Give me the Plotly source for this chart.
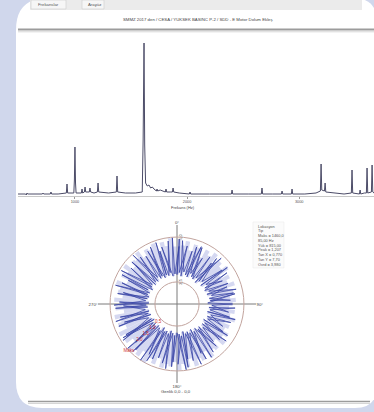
import plotly.graph_objects as go

W, H = 374, 412

# ---------------- data ----------------
freq_hz = [492, 560, 566, 572, 578, 640, 709, 715, 721, 780, 786, 792, 850, 923, 929, 935,
           990, 995, 1000, 1005, 1010, 1057, 1063, 1069, 1084, 1090, 1096, 1128, 1134, 1140,
           1170, 1200, 1206, 1212, 1300, 1369, 1375, 1381, 1450, 1540, 1600, 1608, 1616,
           1622, 1630, 1645, 1660, 1675, 1690, 1705, 1726, 1732, 1738, 1760, 1790, 1806,
           1812, 1818, 1850, 1869, 1875, 1881, 1930, 2020, 2026, 2032, 2200, 2395, 2401,
           2407, 2550, 2662, 2668, 2674, 2760, 2841, 2847, 2853, 2930, 2936, 2942, 3050,
           3150, 3189, 3195, 3201, 3225, 3231, 3237, 3300, 3400, 3465, 3471, 3477, 3537,
           3543, 3549, 3580, 3599, 3605, 3611, 3644, 3650, 3656, 3667]
amp = [0.01, 0.01, 0.00, 0.02, 0.01, 0.01, 0.01, 0.02, 0.01, 0.01, 0.03, 0.01, 0.01, 0.02, 0.11, 0.02,
       0.02, 0.15, 0.48, 0.12, 0.02, 0.02, 0.06, 0.02, 0.03, 0.08, 0.03, 0.03, 0.07, 0.03,
       0.02, 0.03, 0.12, 0.03, 0.02, 0.03, 0.19, 0.03, 0.02, 0.02, 0.03, 0.55, 1.52,
       0.50, 0.12, 0.09, 0.10, 0.07, 0.08, 0.06, 0.04, 0.06, 0.04, 0.05, 0.04, 0.03,
       0.06, 0.03, 0.03, 0.03, 0.07, 0.03, 0.02, 0.01, 0.03, 0.01, 0.01, 0.01, 0.05,
       0.01, 0.01, 0.01, 0.07, 0.01, 0.01, 0.01, 0.04, 0.01, 0.01, 0.06, 0.01, 0.01,
       0.02, 0.04, 0.31, 0.05, 0.04, 0.12, 0.03, 0.02, 0.01, 0.02, 0.25, 0.02, 0.01,
       0.05, 0.01, 0.02, 0.02, 0.27, 0.02, 0.03, 0.30, 0.03, 0.02]
freq_ticks = [1000, 2000, 3000]

spike_theta = [0, 4, 8, 12, 16, 20, 24, 28, 32, 36, 40,
               44, 48, 52, 56, 60, 64, 68, 72, 76, 80, 84, 88,
               92, 96, 100, 104, 108, 112, 116, 120, 124, 128, 132, 136,
               140, 144, 148, 152, 156, 160, 164, 168, 172, 176, 180, 184,
               188, 192, 196, 200, 204, 208, 212, 216, 220, 224, 228, 232,
               236, 240, 244, 248, 252, 256, 260, 264, 268, 272, 276, 280,
               284, 288, 292, 296, 300, 304, 308, 312, 316, 320, 324, 328,
               332, 336, 340, 344, 348, 352, 356]
# angular offset (deg) of each spike's outer tip
tip_offset = [2, 6, -3, 4, 7, -1, 5, -4, 3, 8, 0,
              -3, 5, 2, 7, -2, 4, 8, -1, 3, 6, -4, 2,
              7, -2, 4, 1, 8, -3, 5, 2, 6, -1, 4, 7,
              -3, 3, 6, 0, 8, -2, 5, 2, 7, -4, 4, 1,
              6, -2, 3, 8, 0, 5, -3, 7, 2, 4, -1, 6,
              3, -4, 7, 1, 5, -2, 8, 2, 4, -3, 6, 0,
              7, -1, 4, 2, 8, -3, 5, 1, 6, -2, 3, 7,
              -1, 5, 2, 8, -3, 4, 6]
r_outer = [0.97, 0.88, 0.95, 0.82, 0.93, 0.90, 0.78, 0.92, 0.86, 0.95, 0.80,
           0.90, 0.84, 0.93, 0.76, 0.88, 0.82, 0.91, 0.79, 0.86, 0.80, 0.88, 0.83,
           0.78, 0.87, 0.81, 0.90, 0.76, 0.85, 0.80, 0.89, 0.83, 0.92, 0.78, 0.90,
           0.86, 0.95, 0.82, 0.93, 0.88, 0.97, 0.84, 0.96, 0.90, 0.99, 0.87, 0.94,
           0.91, 0.98, 0.85, 0.96, 0.90, 1.00, 0.86, 0.97, 0.92, 0.99, 0.84, 0.95,
           0.89, 0.97, 0.83, 0.93, 0.87, 0.95, 0.80, 0.92, 0.86, 0.94, 0.82, 0.90,
           0.88, 0.96, 0.81, 0.93, 0.87, 0.97, 0.84, 0.92, 0.89, 0.98, 0.85, 0.94,
           0.90, 0.97, 0.83, 0.95, 0.88, 0.99, 0.86]
r_inner = [0.44, 0.47, 0.42, 0.49, 0.45, 0.43, 0.50, 0.46, 0.44, 0.48, 0.42,
           0.47, 0.50, 0.45, 0.52, 0.48, 0.46, 0.51, 0.47, 0.53, 0.49, 0.50, 0.46,
           0.52, 0.48, 0.50, 0.47, 0.53, 0.49, 0.51, 0.46, 0.50, 0.48, 0.52, 0.47,
           0.49, 0.45, 0.48, 0.43, 0.47, 0.44, 0.46, 0.42, 0.48, 0.45, 0.43, 0.47,
           0.44, 0.41, 0.46, 0.43, 0.45, 0.40, 0.47, 0.44, 0.42, 0.46, 0.43, 0.45,
           0.41, 0.44, 0.47, 0.42, 0.45, 0.43, 0.48, 0.44, 0.46, 0.42, 0.47, 0.45,
           0.43, 0.46, 0.44, 0.48, 0.42, 0.45, 0.47, 0.43, 0.46, 0.44, 0.49, 0.45,
           0.47, 0.43, 0.46, 0.44, 0.48, 0.42, 0.45]

red_label_r = [0.39, 0.51, 0.65, 0.78, 1.0]
red_label_theta = [226, 226, 226, 226, 226]
red_label_text = ["0,5", "1,0", "1,5", "2,0", "Maks"]

angle_ticks = [0, 90, 180, 270]
angle_labels = ["0°", "90°", "180°", "270°"]

info_lines = ["Lokasyon", "Tip", "Maks = 1460,0", "85,00 Hz", "Yük = 815,00",
              "Peak = 1,207", "Tan X = 0,770", "Tan Y = 7,70", "Ovrd = 3,980"]

title_text = "SMMZ 2017 den / CESA / YUKSEK BASINC P-2 / SDD - E Motor Dolum Ekleş"
tab_labels = ["Frekanslar", "Arayüz"]

# ---------------- helpers (pixel -> paper) ----------------
def X(px):
    return px / W

def Y(py):
    return 1 - py / H

FONT = "Liberation Sans"

fig = go.Figure()

# spectrum
fig.add_trace(go.Scatter(x=freq_hz, y=amp, mode="lines",
                         line=dict(color="#4c4c68", width=1), hoverinfo="skip",
                         showlegend=False, xaxis="x", yaxis="y"))

# polar ring fill
fig.add_trace(go.Barpolar(theta=[t + 2 for t in spike_theta],
                          r=[o - i for o, i in zip(r_outer, r_inner)],
                          base=r_inner, width=[4] * len(spike_theta),
                          marker=dict(color="rgba(150,158,220,0.40)", line=dict(width=0)),
                          showlegend=False, hoverinfo="skip", subplot="polar"))

# zigzag spikes
zz_theta, zz_r = [], []
for t, d, ri, ro in zip(spike_theta, tip_offset, r_inner, r_outer):
    zz_theta += [t, t + d]
    zz_r += [ri, ro]
zz_theta.append(360)
zz_r.append(r_inner[0])
fig.add_trace(go.Scatterpolar(theta=zz_theta, r=zz_r, mode="lines",
                              line=dict(color="#3440a4", width=0.75),
                              showlegend=False, hoverinfo="skip", subplot="polar"))

# red labels
fig.add_trace(go.Scatterpolar(theta=red_label_theta, r=red_label_r, mode="text",
                              text=red_label_text,
                              textfont=dict(color="#d03030", size=4.5, family=FONT),
                              showlegend=False, hoverinfo="skip", subplot="polar"))

shapes = []
# white panel with rounded corners
L, R, T, B = 16, 377, -2, 408
shapes.append(dict(
    type="path", xref="paper", yref="paper", layer="below",
    path=(f"M {X(L+32)} {Y(T)} L {X(R-24)} {Y(T)} Q {X(R)} {Y(T)} {X(R)} {Y(T+24)} "
          f"L {X(R)} {Y(B-22)} Q {X(R)} {Y(B)} {X(R-22)} {Y(B)} "
          f"L {X(L+26)} {Y(B)} Q {X(L)} {Y(B)} {X(L)} {Y(B-26)} "
          f"L {X(L)} {Y(T+32)} Q {X(L)} {Y(T)} {X(L+32)} {Y(T)} Z"),
    fillcolor="white", line=dict(width=0)))
# tab bar
shapes.append(dict(type="rect", xref="paper", yref="paper", layer="below",
                   x0=X(30), x1=X(362), y0=Y(0), y1=Y(10),
                   fillcolor="#ebebeb", line=dict(width=0)))
shapes.append(dict(type="rect", xref="paper", yref="paper", layer="below",
                   x0=X(31), x1=X(66), y0=Y(0), y1=Y(9),
                   fillcolor="#f6f6f6", line=dict(color="#cfcfcf", width=0.6)))
shapes.append(dict(type="rect", xref="paper", yref="paper", layer="below",
                   x0=X(82), x1=X(104), y0=Y(0), y1=Y(9),
                   fillcolor="#f6f6f6", line=dict(color="#cfcfcf", width=0.6)))
# separators
shapes.append(dict(type="line", xref="paper", yref="paper", x0=X(18), x1=X(374),
                   y0=Y(29.5), y1=Y(29.5), line=dict(color="#9c9c9c", width=2)))
shapes.append(dict(type="line", xref="paper", yref="paper", x0=X(18), x1=X(374),
                   y0=Y(31.8), y1=Y(31.8), line=dict(color="#d6d6d6", width=1)))
shapes.append(dict(type="line", xref="paper", yref="paper", x0=X(28), x1=X(370),
                   y0=Y(401.5), y1=Y(401.5), line=dict(color="#9c9c9c", width=1.6)))
shapes.append(dict(type="line", xref="paper", yref="paper", x0=X(28), x1=X(370),
                   y0=Y(403.5), y1=Y(403.5), line=dict(color="#d6d6d6", width=1)))
# info box
shapes.append(dict(type="rect", xref="paper", yref="paper", layer="below",
                   x0=X(253), x1=X(284), y0=Y(222), y1=Y(268),
                   fillcolor="#fbfbfb", line=dict(color="#ececec", width=0.6)))

annotations = []
annotations.append(dict(text=title_text, x=X(198), y=Y(19.5), xref="paper", yref="paper",
                        showarrow=False, font=dict(size=4.3, color="#444", family=FONT),
                        xanchor="center", yanchor="middle"))
for lab, px in zip(tab_labels, [36, 86]):
    annotations.append(dict(text=lab, x=X(px), y=Y(5), xref="paper", yref="paper",
                            showarrow=False, font=dict(size=4.3, color="#555", family=FONT),
                            xanchor="left", yanchor="middle"))
annotations.append(dict(text="Frekans (Hz)", x=X(183), y=Y(207), xref="paper", yref="paper",
                        showarrow=False, font=dict(size=4, color="#444", family=FONT),
                        xanchor="center", yanchor="middle"))
annotations.append(dict(text="Genlik 0,0 - 0,0", x=X(176), y=Y(391), xref="paper", yref="paper",
                        showarrow=False, font=dict(size=4.3, color="#444", family=FONT),
                        xanchor="center", yanchor="middle"))
for k, line in enumerate(info_lines):
    annotations.append(dict(text=line, x=X(256), y=Y(226 + 4.8 * k), xref="paper", yref="paper",
                            showarrow=False, font=dict(size=3.9, color="#555", family=FONT),
                            xanchor="left", yanchor="middle"))

fig.update_layout(
    width=W, height=H,
    margin=dict(l=0, r=0, t=0, b=0),
    paper_bgcolor="#d0d7ec",
    plot_bgcolor="rgba(0,0,0,0)",
    font=dict(family=FONT),
    showlegend=False,
    xaxis=dict(domain=[X(18), 1.0], range=[492, 3667], tickvals=freq_ticks,
               ticktext=[str(v) for v in freq_ticks], showgrid=False, zeroline=False,
               showline=True, linecolor="#c8c8c8", linewidth=0.6, ticks="outside",
               ticklen=2, tickcolor="#999", tickwidth=0.6,
               tickfont=dict(size=3.8, color="#555", family=FONT), anchor="y"),
    yaxis=dict(domain=[Y(196), Y(38)], range=[-0.01, 1.57], visible=False, anchor="x"),
    polar=dict(
        domain=dict(x=[X(98), X(256)], y=[Y(383), Y(225)]),
        bgcolor="rgba(0,0,0,0)",
        barmode="overlay",
        radialaxis=dict(range=[0, 1.18], tickvals=[0.33, 1.0], ticktext=["2,5", "5,0"],
                        showgrid=True, gridcolor="#c2a49e", gridwidth=1,
                        showline=False, ticks="", angle=90,
                        tickfont=dict(size=4, color="#555", family=FONT)),
        angularaxis=dict(rotation=90, direction="clockwise", tickvals=angle_ticks,
                         ticktext=angle_labels, showgrid=True, gridcolor="#7a7a7a",
                         gridwidth=0.8, showline=False, ticks="",
                         tickfont=dict(size=4.3, color="#444", family=FONT)),
    ),
    shapes=shapes,
    annotations=annotations,
)

fig.write_html("out.html", config={"displayModeBar": False},
               post_script="document.body.style.margin='0px';document.body.style.overflow='hidden';")
